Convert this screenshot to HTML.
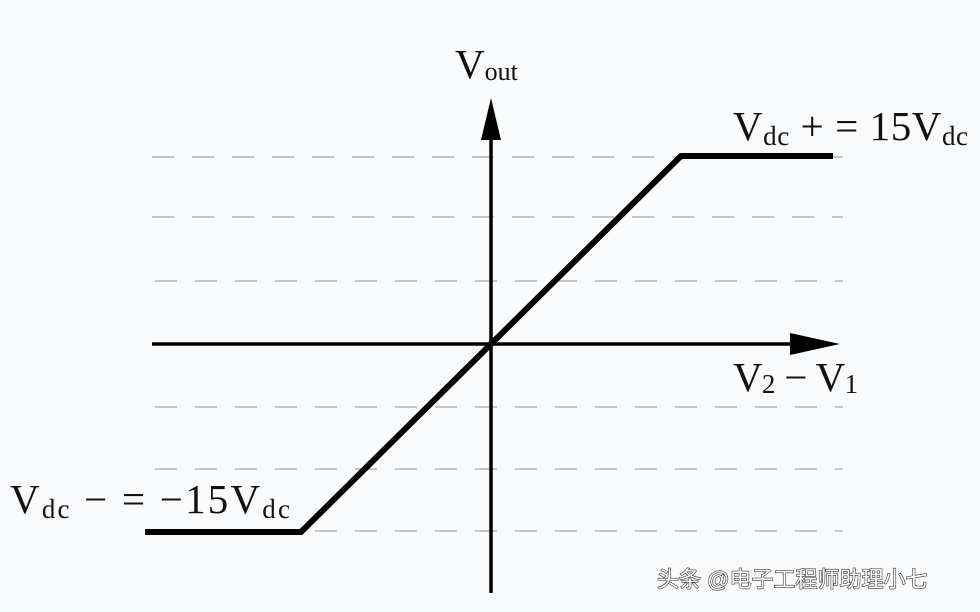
<!DOCTYPE html>
<html><head><meta charset="utf-8"><style>
body{margin:0;background:#fafbfd;}
svg{display:block}
text{font-family:"Liberation Serif",serif;fill:#111}
</style></head><body>
<svg width="980" height="612" viewBox="0 0 980 612" xmlns="http://www.w3.org/2000/svg">
<rect width="980" height="612" fill="#fafbfd"/>
<g stroke="#c4c6c8" stroke-width="2" stroke-dasharray="22,18">
<line x1="152" y1="157" x2="843" y2="157"/>
<line x1="152" y1="217" x2="843" y2="217"/>
<line x1="155" y1="281" x2="843" y2="281"/>
<line x1="155" y1="407" x2="843" y2="407"/>
<line x1="155" y1="469" x2="843" y2="469"/>
<line x1="155" y1="531" x2="843" y2="531"/>
</g>
<line x1="491" y1="135" x2="491" y2="593" stroke="#000" stroke-width="3.5"/>
<polygon points="491,98 481,140 501,140" fill="#000"/>
<line x1="152" y1="344" x2="795" y2="344" stroke="#000" stroke-width="3.5"/>
<polygon points="840,344 790,333 790,355" fill="#000"/>
<polyline points="145,532 301,532 681,156 833,156" fill="none" stroke="#000" stroke-width="6" stroke-linejoin="miter"/>
<text x="455" y="78" font-size="41">V<tspan font-size="26" dy="2">out</tspan></text>
<text x="733" y="140" font-size="41" textLength="235" lengthAdjust="spacing">V<tspan font-size="27" dy="5">dc</tspan><tspan dy="-5"> + = 15V</tspan><tspan font-size="27" dy="5">dc</tspan></text>
<text x="733" y="391" font-size="41" textLength="125" lengthAdjust="spacing">V<tspan font-size="27" dy="2">2</tspan><tspan dy="-2"> − V</tspan><tspan font-size="27" dy="2">1</tspan></text>
<text x="10" y="513" font-size="41" textLength="280" lengthAdjust="spacing">V<tspan font-size="27" dy="5">dc</tspan><tspan dy="-5"> − = −15V</tspan><tspan font-size="27" dy="5">dc</tspan></text>
<text x="657" y="587" font-size="22" style="font-family:'Liberation Sans','Noto Sans CJK SC',sans-serif;fill:#fff;stroke:#333;stroke-width:1.2;paint-order:stroke">头条 @电子工程师助理小七</text>
</svg>
</body></html>
